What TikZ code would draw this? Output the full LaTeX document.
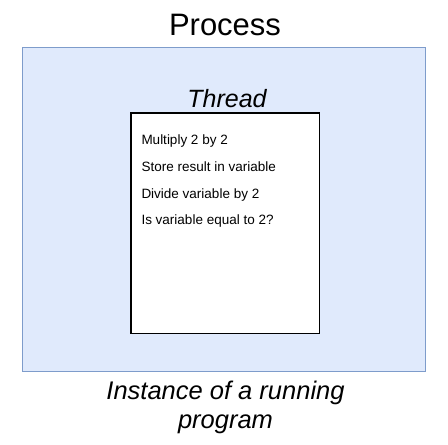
\documentclass[tikz,border=0pt]{standalone}
\usepackage{fontspec}
\setmainfont{Liberation Sans}
\definecolor{procfill}{RGB}{224,234,252}
\definecolor{procline}{RGB}{126,156,203}
\tikzset{
  procbox/.style={draw=procline,fill=procfill,line width=1.3pt,minimum width=403pt,minimum height=324pt},
  threadbox/.style={draw=black,fill=white,line width=1.6pt,minimum width=188.6pt,minimum height=220.6pt},
  stepline/.style={anchor=base west,font=\fontsize{13.5}{16}\selectfont}
}
\begin{document}
\begin{tikzpicture}[inner sep=0pt,outer sep=0pt]
\fill[white] (0,0) rectangle (448pt,-445pt);
\node[procbox] (P) at (224.2pt,-209.7pt) {};
\node[threadbox] (T) at (225pt,-223pt) {};
\node[anchor=base,font=\fontsize{31}{36}\selectfont] (ptitle) at (225pt,-35pt) {Process};
\node[anchor=base,font=\itshape\fontsize{25}{30}\selectfont] (ttitle) at (227pt,-107pt) {Thread};
\node[stepline] (s1) at (141.5pt,-144pt) {Multiply 2 by 2};
\node[stepline] (s2) at (141.5pt,-171.5pt) {Store result in variable};
\node[stepline] (s3) at (141.5pt,-198pt) {Divide variable by 2};
\node[stepline] (s4) at (141.5pt,-224.5pt) {Is variable equal to 2?};
\node[anchor=base,font=\itshape\fontsize{25.5}{29}\selectfont] (pnote1) at (225.5pt,-399.5pt) {Instance of a running};
\node[anchor=base,font=\itshape\fontsize{25.5}{29}\selectfont] (pnote2) at (225.5pt,-428pt) {program};
\end{tikzpicture}
\end{document}
